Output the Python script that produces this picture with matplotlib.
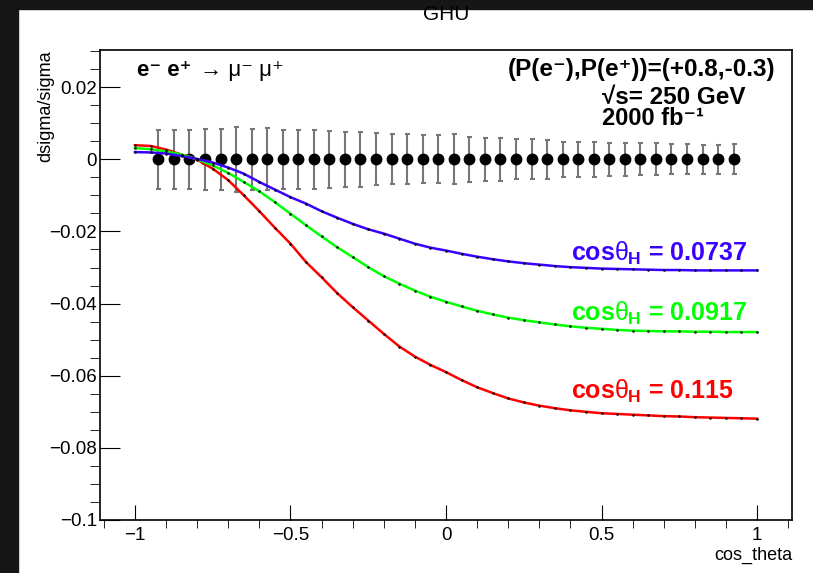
import numpy as np
import matplotlib
matplotlib.use("Agg")
import matplotlib.pyplot as plt
from matplotlib.patches import Rectangle
from matplotlib.ticker import MultipleLocator

plt.rcParams["font.family"] = ["Liberation Sans", "DejaVu Sans"]
plt.rcParams["mathtext.fontset"] = "custom"
plt.rcParams["mathtext.rm"] = "Liberation Sans:bold"
plt.rcParams["mathtext.it"] = "Liberation Sans"
plt.rcParams["mathtext.bf"] = "Liberation Sans:bold"

# ----- data ---------------------------------------------------------------

# pseudo-data points (SM expectation, zero deviation) with stat. errors
pts_x = np.linspace(-0.925, 0.925, 38)
pts_y = np.zeros(38)
pts_err = [0.0081, 0.0081, 0.0081, 0.0085, 0.0085, 0.0090, 0.0085, 0.0086,
           0.0081, 0.0081, 0.0081, 0.0079, 0.0076, 0.0076, 0.0072, 0.0069,
           0.0069, 0.0067, 0.0067, 0.0069, 0.0063, 0.0060, 0.0060, 0.0056,
           0.0056, 0.0054, 0.0049, 0.0049, 0.0049, 0.0046, 0.0046, 0.0044,
           0.0044, 0.0042, 0.0042, 0.0040, 0.0040, 0.0042]

# GHU predictions, sampled every 0.05 in cos_theta
curve_x = np.linspace(-1.0, 1.0, 41)
dev_0115 = [0.0039, 0.0037, 0.0027, 0.0013, -0.0001, -0.0026, -0.0058, -0.0100,
            -0.0144, -0.0190, -0.0234, -0.0285, -0.0327, -0.0371, -0.0410,
            -0.0447, -0.0484, -0.0519, -0.0547, -0.0570, -0.0590, -0.0612,
            -0.0632, -0.0648, -0.0663, -0.0674, -0.0683, -0.0690, -0.0696,
            -0.0700, -0.0704, -0.0706, -0.0708, -0.0710, -0.0712, -0.0713,
            -0.0715, -0.0716, -0.0717, -0.0718, -0.0719]
dev_0917 = [0.0031, 0.0028, 0.0022, 0.0013, 0.0000, -0.0017, -0.0038, -0.0063,
            -0.0089, -0.0119, -0.0151, -0.0183, -0.0214, -0.0244, -0.0271,
            -0.0299, -0.0324, -0.0345, -0.0364, -0.0381, -0.0395, -0.0408,
            -0.0420, -0.0430, -0.0439, -0.0446, -0.0452, -0.0458, -0.0463,
            -0.0467, -0.0470, -0.0473, -0.0475, -0.0476, -0.0477, -0.0477,
            -0.0478, -0.0478, -0.0479, -0.0479, -0.0479]
dev_0737 = [0.0020, 0.0019, 0.0016, 0.0009, 0.0001, -0.0009, -0.0023, -0.0040,
            -0.0063, -0.0084, -0.0105, -0.0123, -0.0144, -0.0162, -0.0179,
            -0.0194, -0.0206, -0.0220, -0.0234, -0.0245, -0.0253, -0.0262,
            -0.0270, -0.0277, -0.0283, -0.0288, -0.0292, -0.0296, -0.0299,
            -0.0301, -0.0303, -0.0304, -0.0305, -0.0306, -0.0307, -0.0307,
            -0.0308, -0.0308, -0.0308, -0.0308, -0.0308]

curves = [
    (dev_0115, "#ff0000", "0.115", -0.0664),
    (dev_0917, "#00ff00", "0.0917", -0.0447),
    (dev_0737, "#3a00ff", "0.0737", -0.0281),
]


def tick_fmt(v, pos):
    v = round(v, 6)
    if v == 0:
        return "0"
    return f"{v:g}".replace("-", "\u2212")


# ----- rendering ----------------------------------------------------------

fig = plt.figure(figsize=(8.13, 5.73), dpi=100)
fig.patches.append(Rectangle((0, 0), 18 / 813, 1, transform=fig.transFigure,
                             color="#161616", zorder=0))
fig.patches.append(Rectangle((0, 1 - 9 / 573), 1, 9 / 573, transform=fig.transFigure,
                             color="#161616", zorder=0))

ax = fig.add_axes([100 / 813, 53 / 573, 692 / 813, 470 / 573])

ax.errorbar(pts_x, pts_y, yerr=pts_err, fmt="o", color="black", ms=7.5,
            ecolor="#777777", elinewidth=1.5, capsize=1.8, capthick=1.5, zorder=2)

for vals, col, lab, ylab in curves:
    ax.plot(curve_x, vals, color=col, lw=1.8, zorder=3)
    ax.plot(curve_x, vals, ls="none", marker="o", ms=0.8, color="black", zorder=4)
    ax.text(0.402, ylab, r"cos$\theta_{\rm H}$ = " + lab, color=col, fontsize=18,
            fontweight="bold", ha="left", va="baseline")

ax.set_xlim(-1.1125, 1.1125)
ax.set_ylim(-0.1, 0.0303)
ax.xaxis.set_major_locator(MultipleLocator(0.5))
ax.xaxis.set_minor_locator(MultipleLocator(0.1))
ax.yaxis.set_major_locator(MultipleLocator(0.02))
ax.yaxis.set_minor_locator(MultipleLocator(0.005))
ax.xaxis.set_major_formatter(plt.FuncFormatter(tick_fmt))
ax.yaxis.set_major_formatter(plt.FuncFormatter(tick_fmt))

ax.tick_params(direction="in", top=False, right=False, labelsize=13.5, width=0.8)
ax.tick_params(axis="y", which="major", length=14.4, pad=2)
ax.tick_params(axis="y", which="minor", length=7.2)
ax.tick_params(axis="x", which="major", length=10.8, pad=5)
ax.tick_params(axis="x", which="minor", length=5.4)
for sp in ax.spines.values():
    sp.set_linewidth(1.2)

# e- e+ (bold) followed by the arrow and muons in regular weight
ax.text(-0.994, 0.0231, "e\u207b e\u207a", fontsize=16, fontweight="bold",
        ha="left", va="baseline")
ax.text(-0.79, 0.0231, "\u2192 \u03bc\u207b \u03bc\u207a", fontsize=16,
        ha="left", va="baseline")
ax.text(1.058, 0.0231, "(P(e\u207b),P(e\u207a))=(+0.8,-0.3)",
        fontsize=17.5, fontweight="bold", ha="right", va="baseline")
ax.text(0.502, 0.0152, "\u221as= 250 GeV",
        fontsize=17.5, fontweight="bold", ha="left", va="baseline")
ax.text(0.502, 0.0096, "2000 fb\u207b\u00b9",
        fontsize=17, fontweight="bold", ha="left", va="baseline")

fig.text(446 / 813, 1 - 14.5 / 573, "GHU", ha="center", va="center", fontsize=15)
fig.text(46 / 813, 1 - 50 / 573, "dsigma/sigma", rotation=90, ha="center",
         va="top", fontsize=13)
fig.text(792 / 813, 1 - 555 / 573, "cos_theta", ha="right", va="center", fontsize=13)

fig.savefig("out.png", dpi=100)
